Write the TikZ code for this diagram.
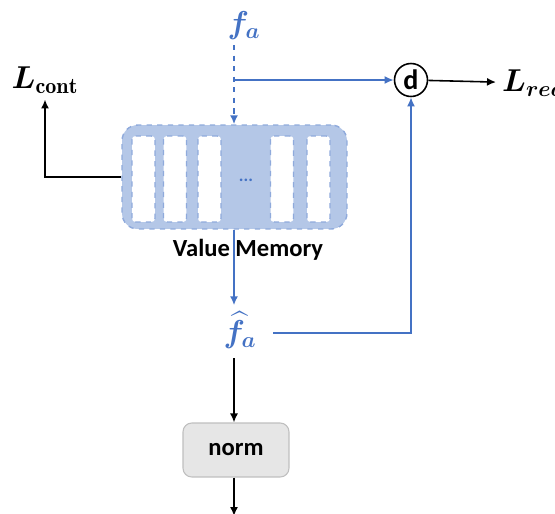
\RequirePackage{fix-cm}
\documentclass[tikz,border=0pt]{standalone}
\usepackage{amsmath}
\usepackage{fontspec}
\setsansfont{Carlito}
\usetikzlibrary{arrows.meta}
\definecolor{memblue}{HTML}{4472C4}
\definecolor{memfill}{HTML}{B4C7E7}
\definecolor{memedge}{HTML}{8FAADC}
\definecolor{normfill}{HTML}{E6E6E6}
\definecolor{normedge}{HTML}{BFBFBF}
\tikzset{
  membox/.style={draw=memedge,dashed,rounded corners=9pt,fill=memfill,line width=.8pt,minimum width=4.5cm,minimum height=2.08cm},
  slotbox/.style={draw=memedge,dashed,rounded corners=2pt,fill=white,line width=.8pt,minimum width=.46cm,minimum height=1.72cm},
  normbox/.style={draw=normedge,rounded corners=5pt,fill=normfill,line width=.6pt,minimum width=2.12cm,minimum height=1.08cm,font=\sffamily\bfseries\fontsize{14}{16}\selectfont},
  dnode/.style={circle,draw,line width=.9pt,inner sep=0pt,minimum size=6.6mm,font=\sffamily\bfseries\fontsize{16}{18}\selectfont},
  vec/.style={text=memblue,font=\fontsize{18}{20}\selectfont},
  loss/.style={font=\fontsize{18}{20}\selectfont},
  bluearr/.style={-{Latex[length=1.8mm,width=1.6mm]},memblue,line width=1.1pt},
  bluedash/.style={-{Latex[length=1.8mm,width=1.6mm]},memblue,line width=1.1pt,dashed},
  blackarr/.style={-{Latex[length=1.8mm,width=1.6mm]},line width=.9pt}
}
\begin{document}
\begin{tikzpicture}[x=0.02cm,y=-0.02cm]
  \useasboundingbox (0,0) rectangle (555,514);

  % memory with its slots
  \node[membox] (mem) at (234.5,177) {};
  \foreach \x/\i in {143.5/1,175/2,209.5/3,282/4,318.5/5}
    \node[slotbox] (s\i) at (\x,179) {};
  \node[text=memblue,font=\sffamily\bfseries] (dots) at (246,180) {...};

  \node[vec] (fa) at (244,26) {$\boldsymbol{f_a}$};
  \coordinate (col) at (234,45);
  \coordinate (split) at (234,80);
  \node[dnode] (d) at (411,80) {d};
  \node[loss,anchor=west] (lrec) at (496,83) {$\boldsymbol{L_{rec}}$};
  \node[loss] (lcont) at (45,80) {$\boldsymbol{L}_{\mathbf{cont}}$};
  \node[vec] (fhat) at (240,330) {$\boldsymbol{\widehat{f}_a}$};
  \node[normbox] (norm) at (236,450) {norm};
  \coordinate (out) at (234,516);

  \draw[bluedash] (col) -- (mem.north -| col);
  \draw[bluearr] (split) -- (d);
  \draw[blackarr] (d) -- (lrec);
  \draw[blackarr] (mem.west) -| (lcont);
  \draw[bluearr] (mem.south -| col) -- (fhat.north -| col);
  \draw[bluearr] ([xshift=6pt,yshift=-1.5pt]fhat.east) -| (d);
  \draw[blackarr] ([yshift=-2pt]fhat.south -| col) -- (norm.north -| col);
  \draw[blackarr] (norm.south -| col) -- (out);

  \node[font=\sffamily\bfseries\fontsize{14}{16}\selectfont] (memlabel) at (248,250) {Value Memory};
\end{tikzpicture}
\end{document}
